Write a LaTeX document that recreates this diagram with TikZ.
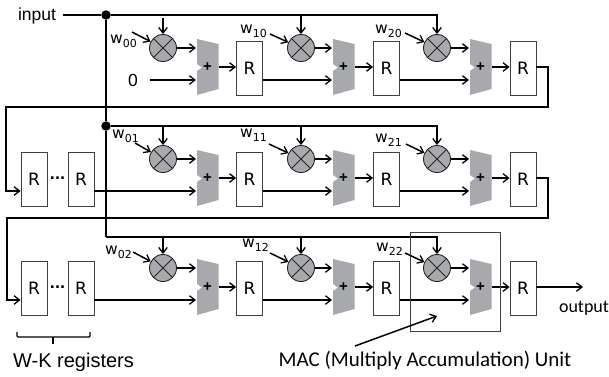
\documentclass[tikz,border=0pt]{standalone}
\usepackage{fontspec}
\setmainfont{Liberation Sans}
\newfontfamily\wfont{DejaVu Sans}
\newfontfamily\calfont{Carlito}
\usetikzlibrary{arrows.meta}
\definecolor{macgray}{HTML}{A7A9AC}
\newcommand{\wlab}[1]{{\wfont\fontsize{15.5}{15.5}\selectfont w\raisebox{-4pt}{\fontsize{11}{11}\selectfont #1}}}
\tikzset{
  wire/.style={line width=1.5pt},
  regbox/.style={draw=black!75,line width=0.8pt,fill=white,minimum width=26pt,minimum height=54pt,inner sep=0pt,font=\wfont\fontsize{17}{17}\selectfont},
  multcirc/.style={circle,draw=black!85,line width=0.9pt,fill=macgray,minimum size=27pt,inner sep=0pt,
    path picture={\draw[line width=0.8pt,black!85] (path picture bounding box.north west) -- (path picture bounding box.south east)
      (path picture bounding box.north east) -- (path picture bounding box.south west);}},
  junction/.style={circle,fill=black,inner sep=0pt,minimum size=9.5pt},
  plain/.style={inner sep=0pt,font=\fontsize{17.5}{17.5}\selectfont},
}
\begin{document}
\begin{tikzpicture}[x=1pt,y=-1pt,>={Straight Barb[length=5.5pt,width=8.5pt,line width=1.3pt]}]
  \useasboundingbox (0,0) rectangle (609,376);
  % rows of multipliers, adders and registers
  \foreach \r/\dy in {0/0,1/111,2/220} {
    \foreach \c/\mx/\ax/\rx in {0/163/197/249.5,1/301/333/386.5,2/437/470/523} {
      \node[multcirc] (m\c\r) at (\mx,48+\dy) {};
      \fill[macgray] (\ax,39+\dy) -- (\ax+21.5,44+\dy) -- (\ax+21.5,89+\dy) -- (\ax,95+\dy)
        -- (\ax,71+\dy) -- (\ax+5,67.5+\dy) -- (\ax,64+\dy) -- cycle;
      \node[inner sep=0pt,font=\bfseries\fontsize{15}{15}\selectfont] (add\c\r) at (\ax+10.5,67+\dy) {+};
      \node[regbox] (reg\c\r) at (\rx,68+\dy) {R};
      \coordinate (ina\c\r) at (\ax-1,48+\dy);
      \coordinate (inb\c\r) at (\ax-1,80+\dy);
      \coordinate (out\c\r) at (\ax+21.5,67+\dy);
      \draw[wire,->] (m\c\r) -- (ina\c\r);
      \draw[wire,->] (out\c\r) -- (reg\c\r.west|-out\c\r);
    }
    \draw[wire,->] (reg0\r.east|-inb1\r) -- (inb1\r);
    \draw[wire,->] (reg1\r.east|-inb2\r) -- (inb2\r);
  }
  % delay registers
  \foreach \r/\dy in {1/111,2/220} {
    \node[regbox] (rega\r) at (34,68+\dy) {R};
    \node[regbox] (regb\r) at (81,68+\dy) {R};
    \node[inner sep=0pt,font=\bfseries\fontsize{18}{18}\selectfont] (dots\r) at (57.5,67+\dy) {...};
    \draw[wire,->] (regb\r.east|-inb0\r) -- (inb0\r);
  }
  % input bus
  \node[plain,inner sep=7pt] (input) at (37,16) {input};
  \node[junction] (dot0) at (106,15) {};
  \node[junction] (dot1) at (106,126) {};
  \coordinate (bus2) at (106,237);
  \draw[wire] (input.east|-dot0) -- (dot0);
  \draw[wire] (dot0) -- (dot1) -- (bus2);
  \draw[wire,->] (dot0) -| (m20);
  \draw[wire,->] (dot1) -| (m21);
  \draw[wire,->] (bus2) -| (m22);
  \coordinate (m00top) at (163,18);
  \draw[wire,->] (m00top) -- (m00);
  \draw[wire,->] (m10|-dot0) -- (m10);
  \foreach \c in {0,1} {
    \draw[wire,->] (m\c1|-dot1) -- (m\c1);
    \draw[wire,->] (m\c2|-bus2) -- (m\c2);
  }
  % first adder input
  \node[plain] (zero) at (133,80) {0};
  \coordinate (zerostart) at (150,80);
  \draw[wire,->] (zerostart) -- (inb00);
  % wrap around
  \coordinate (wrapa0) at (548,107);
  \coordinate (wrapb0) at (6,107);
  \coordinate (wrapa1) at (548,218);
  \coordinate (wrapb1) at (7,218);
  \draw[wire,->] (reg20.east|-out20) -| (wrapa0) -- (wrapb0) |- (rega1.west|-inb01);
  \draw[wire,->] (reg21.east|-out21) -| (wrapa1) -- (wrapb1) |- (rega2.west|-inb02);
  % weights
  \foreach \c/\r/\lx/\ly/\sx/\sy in {0/0/110/43/132/32,1/0/240/33/270/34,2/0/375/33/405/33,
    0/1/112/138/135/143,1/1/240/137/269/144,2/1/375/142/406/144,
    0/2/105/254/133/252,1/2/242/247/270/253,2/2/376/251/405/253} {
    \node[anchor=base west,inner sep=0pt] (w\c\r) at (\lx,\ly) {\wlab{\c\r}};
    \coordinate (ws\c\r) at (\sx,\sy);
    \draw[wire,->] (ws\c\r) -- (m\c\r);
  }
  % output
  \coordinate (outend) at (583,287);
  \draw[wire,->] (reg22.east|-outend) -- (outend);
  \node[font=\calfont\fontsize{18}{18}\selectfont,inner sep=0pt] (output) at (584,308) {output};
  % MAC unit
  \node[draw=black!75,line width=0.8pt,minimum width=90pt,minimum height=99pt,inner sep=0pt] (macbox) at (455,281.5) {};
  \node[font=\calfont\fontsize{21}{21}\selectfont,inner sep=0pt] (maclabel) at (425,360) {MAC (Multiply Accumulation) Unit};
  \coordinate (macstart) at (355,346);
  \coordinate (macend) at (437,316);
  \draw[wire,->] (macstart) -- (macend);
  % W-K bracket
  \coordinate (brl) at (17,332);
  \coordinate (brr) at (90,332);
  \coordinate (brm) at (53,344);
  \draw[line width=1.1pt,rounded corners=1pt] (brl) |- (brr|-0,337) -- (brr);
  \draw[line width=1.1pt] (brm|-0,337) -- (brm);
  \node[plain,font=\fontsize{20}{20}\selectfont] (wk) at (73.5,362) {W-K registers};
\end{tikzpicture}
\end{document}
